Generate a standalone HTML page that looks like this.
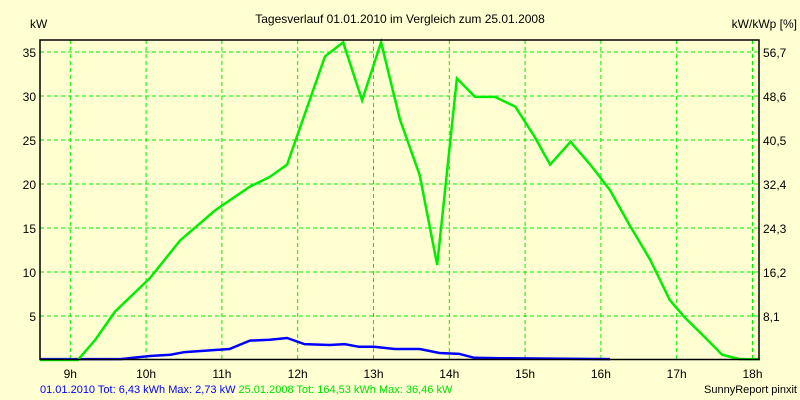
<!DOCTYPE html>
<html><head><meta charset="utf-8"><style>
body{margin:0;background:#ffffd2;}
svg{display:block;font-family:"Liberation Sans",sans-serif;font-size:12px;}
</style></head><body>
<svg id="c" width="800" height="400">
<rect width="800" height="400" fill="#ffffd2"/>
<text x="400" y="23" text-anchor="middle">Tagesverlauf 01.01.2010 im Vergleich zum 25.01.2008</text>
<text x="30" y="28">kW</text>
<text x="797" y="28" text-anchor="end">kW/kWp [%]</text>
<g id="grid"></g><g id="ticks"></g><g id="series"></g>
<rect x="40" y="40" width="719" height="319.5" fill="none" stroke="#000" stroke-width="1.5"/>
<text x="40" y="393" font-size="11"><tspan fill="#0000ff">01.01.2010 Tot: 6,43 kWh Max: 2,73 kW </tspan><tspan fill="#00e000">25.01.2008 Tot: 164,53 kWh Max: 36,46 kW</tspan></text>
<text x="797" y="393" font-size="11" text-anchor="end">SunnyReport pinxit</text>
</svg>
<script>
const hourTicks=[9,10,11,12,13,14,15,16,17,18];
const kwTicks=[5,10,15,20,25,30,35];
const pctLabels=["8,1","16,2","24,3","32,4","40,5","48,6","56,7"];
const greenT=[8.6,9.1,9.33,9.59,10.05,10.45,10.91,11.37,11.63,11.86,12.36,12.6,12.85,13.1,13.35,13.61,13.84,14.1,14.34,14.6,14.87,15.13,15.33,15.6,15.86,16.12,16.38,16.65,16.91,17.11,17.37,17.6,17.83,17.99,18.1];
const greenV=[0,0,2.3,5.5,9.3,13.6,17,19.7,20.8,22.2,34.5,36.1,29.5,36.1,27.3,21,10.8,32,29.9,29.9,28.8,25.3,22.2,24.8,22.2,19.3,15.3,11.4,6.8,4.8,2.6,0.6,0.1,0.1,0.1];
const blueT=[8.6,9.66,10.05,10.32,10.51,10.84,11.1,11.37,11.63,11.86,12.09,12.42,12.62,12.81,13.01,13.28,13.61,13.87,14.13,14.33,14.67,16.12];
const blueV=[0.1,0.1,0.45,0.6,0.9,1.1,1.25,2.2,2.3,2.5,1.8,1.7,1.8,1.5,1.5,1.25,1.25,0.8,0.7,0.25,0.2,0.1];
const X=h=>70.3+(h-9)*75.8, Y=v=>360-v*8.8;
const NS="http://www.w3.org/2000/svg";
function mk(t,a,p){const e=document.createElementNS(NS,t);for(const k in a)e.setAttribute(k,a[k]);document.getElementById(p).appendChild(e);return e;}
hourTicks.forEach(h=>{
 const l=mk('line',{x1:X(h),x2:X(h),y1:40,y2:359,stroke:'#00ee00','stroke-dasharray':'4,3'},'grid');
 
 
 const t=mk('text',{x:X(h),y:378,'text-anchor':'middle'},'ticks');t.textContent=h+'h';
 
 
});
kwTicks.forEach((v,i)=>{
 const l=mk('line',{x1:40,x2:759,y1:Y(v),y2:Y(v),stroke:'#00ee00','stroke-dasharray':'4,3'},'grid');
 
 
 const t=mk('text',{x:36,y:Y(v)+5,'text-anchor':'end'},'ticks');t.textContent=v;
 
 
 const r=mk('text',{x:763,y:Y(v)+5},'ticks');r.textContent=pctLabels[i];
 
 
});
function line(T,V,c,n){
 const p=mk('polyline',{points:T.map((t,i)=>X(t)+','+Y(V[i])).join(' '),fill:'none',stroke:c,'stroke-width':2.5},'series');
 
 
}
line(blueT,blueV,'#0000ff','series-2010');
line(greenT,greenV,'#00ee00','series-2008');
</script>
</body></html>
